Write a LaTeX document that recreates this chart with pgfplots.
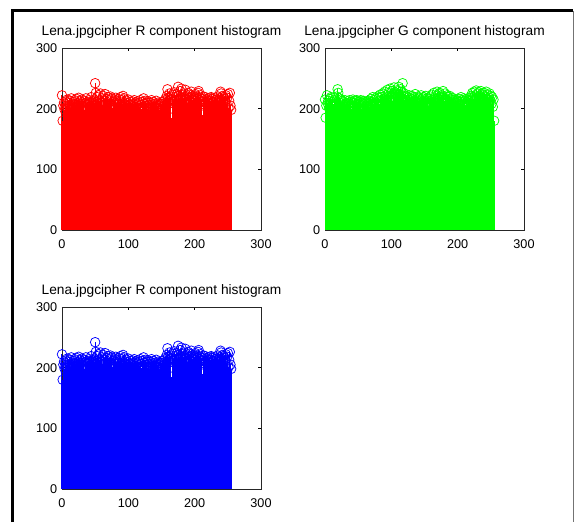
\documentclass[border=0pt]{standalone}
\usepackage{pgfplots}
\pgfplotsset{compat=1.18}
\usepackage{pgfplotstable}
\usepackage{fontspec}
\setmainfont{Liberation Sans}

\pgfplotstableread{
y
222
180
205
210
198
207
212
203
215
200
209
206
213
201
217
204
208
211
199
214
206
203
216
209
202
218
205
212
207
200
215
210
204
213
198
209
217
206
211
202
208
214
203
210
219
205
212
207
215
209
242
226
211
219
204
222
213
208
225
210
217
206
221
190
212
224
207
216
203
219
210
214
205
220
208
217
201
168
212
215
206
218
209
213
200
216
207
211
219
204
214
208
221
203
217
210
205
213
199
209
215
202
207
211
172
206
212
200
208
214
203
210
197
207
212
204
209
201
214
206
199
211
203
217
208
202
213
205
209
200
212
206
198
210
204
214
207
201
211
186
208
203
213
206
200
210
205
197
208
202
207
211
199
212
204
209
216
206
221
232
218
212
225
209
220
185
216
223
211
227
214
219
208
224
215
236
221
212
229
216
233
210
222
218
225
195
231
214
220
209
226
217
223
212
219
228
215
180
221
210
217
224
213
220
208
226
229
214
218
222
211
216
190
220
207
214
219
210
215
205
217
212
208
218
213
219
209
216
211
206
214
218
210
215
207
220
213
209
217
228
225
214
221
210
219
216
212
222
208
218
224
201
213
226
205
198
}\Rdata

\pgfplotstableread{
y
215
185
205
222
209
213
201
216
207
219
211
204
218
208
214
200
212
170
220
232
226
210
217
205
215
209
213
202
211
207
214
206
209
203
212
198
208
214
205
211
200
210
215
204
209
213
206
212
214
208
211
203
212
207
214
199
210
205
213
185
208
211
204
212
207
210
213
203
209
216
206
211
219
208
214
202
217
210
205
220
212
218
207
223
213
219
209
225
216
211
228
217
222
210
231
220
226
214
233
221
218
229
212
224
235
219
227
215
230
222
225
236
224
219
232
228
217
242
226
221
215
224
212
220
208
218
214
222
211
217
209
221
215
207
219
213
224
210
216
205
220
212
218
209
215
222
211
217
206
219
213
208
221
214
210
218
205
216
212
220
209
223
215
211
226
218
195
221
213
228
217
224
210
226
219
165
222
214
229
218
212
225
216
210
222
213
219
207
221
215
211
218
214
208
217
211
205
215
209
213
203
211
216
207
212
219
206
214
210
217
208
213
204
216
211
207
214
209
218
212
221
215
226
219
213
228
222
216
230
219
225
212
227
221
218
229
215
224
217
222
226
213
220
228
216
223
210
218
225
214
221
208
219
203
215
180
}\Gdata

\pgfplotsset{
  histo/.style={
    scale only axis,
    width=149.25pt, height=136.5pt,
    xmin=0, xmax=300, ymin=0, ymax=300,
    xtick={0,100,200,300}, ytick={0,100,200,300},
    tick align=inside,
    major tick length=2.25pt,
    axis line style={line width=0.6pt, black!85},
    every tick/.style={black, line width=0.6pt},
    tick label style={font=\fontsize{9.5}{11}\selectfont},
    /pgf/number format/assume math mode=true,
    xticklabel style={yshift=-3.5pt},
    yticklabel style={xshift=0pt},
    title style={font=\fontsize{10.3}{12}\selectfont, at={(0.5,1)}, anchor=base, yshift=3.75pt},
    clip=false,
  },
  stem/.style={ycomb, line width=0.75pt, color=#1, mark=o, mark size=3.6pt,
    mark options={line width=0.55pt, fill=none}},
}

\begin{document}
\begin{tikzpicture}
\useasboundingbox (0,0) rectangle (431.25pt,-391.5pt);
\begin{axis}[histo, at={(46.5pt,-172.5pt)}, anchor=south west,
  title={Lena.jpgcipher R component histogram}]
\addplot[stem={red}] table[x expr=\coordindex, y=y] {\Rdata};
\end{axis}
\begin{axis}[histo, at={(243.75pt,-172.5pt)}, anchor=south west,
  title={Lena.jpgcipher G component histogram}]
\addplot[stem={green}] table[x expr=\coordindex, y=y] {\Gdata};
\end{axis}
\begin{axis}[histo, at={(46.5pt,-366.75pt)}, anchor=south west,
  title={Lena.jpgcipher R component histogram}]
\addplot[stem={blue}] table[x expr=\coordindex, y=y] {\Rdata};
\end{axis}
\draw[line width=2.2pt, black] (9.4pt,-391.5pt) -- (9.4pt,-7.9pt) -- (430.1pt,-7.9pt);
\draw[line width=1.4pt, black!55] (430.1pt,-7.9pt) -- (430.1pt,-391.5pt);
\end{tikzpicture}
\end{document}
